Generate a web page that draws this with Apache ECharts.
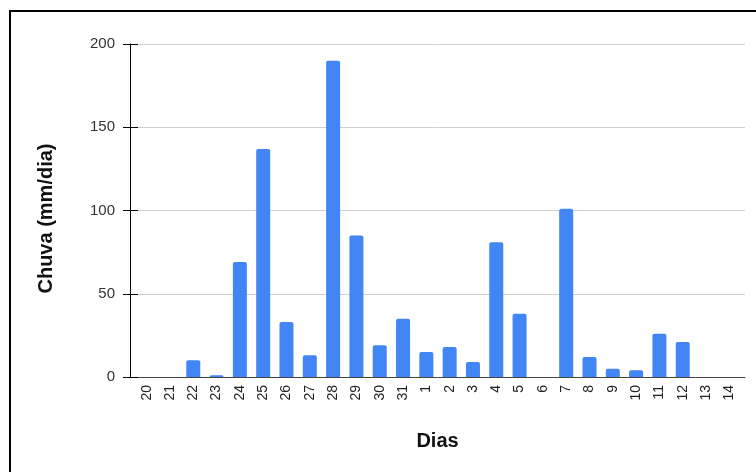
<!DOCTYPE html>
<html>
<head>
<meta charset="utf-8">
<script src="https://cdn.jsdelivr.net/npm/echarts@6/dist/echarts.min.js"></script>
<style>
html,body{margin:0;padding:0;background:#fff;}
#wrap{position:relative;width:756px;height:472px;overflow:hidden;}
#border{position:absolute;left:9px;top:10px;width:800px;height:500px;border-left:2px solid #000;border-top:2px solid #000;}
#chart{position:absolute;left:0;top:0;width:756px;height:472px;}
</style>
</head>
<body>
<div id="wrap"><div id="border"></div><div id="chart"></div></div>
<script>
const categories = ['20','21','22','23','24','25','26','27','28','29','30','31','1','2','3','4','5','6','7','8','9','10','11','12','13','14'];
const chuva = [0,0,10,1,69,137,33,13,190,85,19,35,15,18,9,81,38,0,101,12,5,4,26,21,0,0];
const yTicks = [0,50,100,150,200];

const font = 'Arial, "Liberation Sans", sans-serif';
const chart = echarts.init(document.getElementById('chart'), null, {renderer:'canvas'});
chart.setOption({
  animation:false,
  backgroundColor:'transparent',
  grid:[
    {left:130,right:11,top:44,bottom:95},
    {left:135,right:15,top:44,bottom:95}
  ],
  xAxis:[
    {gridIndex:0,type:'value',min:0,max:1,axisLabel:{show:false},axisTick:{show:false},splitLine:{show:false},
     axisLine:{show:true,lineStyle:{color:'#444',width:1}},
     name:'Dias',nameLocation:'middle',nameGap:54,
     nameTextStyle:{fontFamily:font,fontSize:20,fontWeight:'bold',color:'#111'}},
    {gridIndex:1,type:'category',data:categories,axisLine:{show:false},axisTick:{show:false},
     axisLabel:{rotate:90,interval:0,margin:8,fontFamily:font,fontSize:14,color:'#222'}}
  ],
  yAxis:[
    {gridIndex:0,type:'value',min:yTicks[0],max:yTicks[yTicks.length-1],interval:50,
     axisLine:{show:true,lineStyle:{color:'#000',width:1}},
     axisTick:{show:true,length:7,lineStyle:{color:'#000'}},
     axisLabel:{margin:15,fontFamily:font,fontSize:15,color:'#333'},
     splitLine:{show:true,lineStyle:{color:'#d0d0d0',width:1}},
     name:'Chuva (mm/dia)',nameLocation:'middle',nameGap:74,nameRotate:90,
     nameTextStyle:{fontFamily:font,fontSize:20,fontWeight:'bold',color:'#111',padding:[0,16,0,0]}},
    {gridIndex:0,type:'value',min:yTicks[0],max:yTicks[yTicks.length-1],interval:50,position:'left',
     axisLine:{show:false},axisLabel:{show:false},splitLine:{show:false},
     axisTick:{show:true,inside:true,length:8,lineStyle:{color:'#000'}}},
    {gridIndex:1,type:'value',min:yTicks[0],max:yTicks[yTicks.length-1],interval:50,show:false}
  ],
  series:[{
    type:'bar',xAxisIndex:1,yAxisIndex:2,data:chuva,barWidth:14,
    itemStyle:{color:'#4285F4',borderRadius:[2,2,0,0]}
  }]
});
</script>
</body>
</html>
